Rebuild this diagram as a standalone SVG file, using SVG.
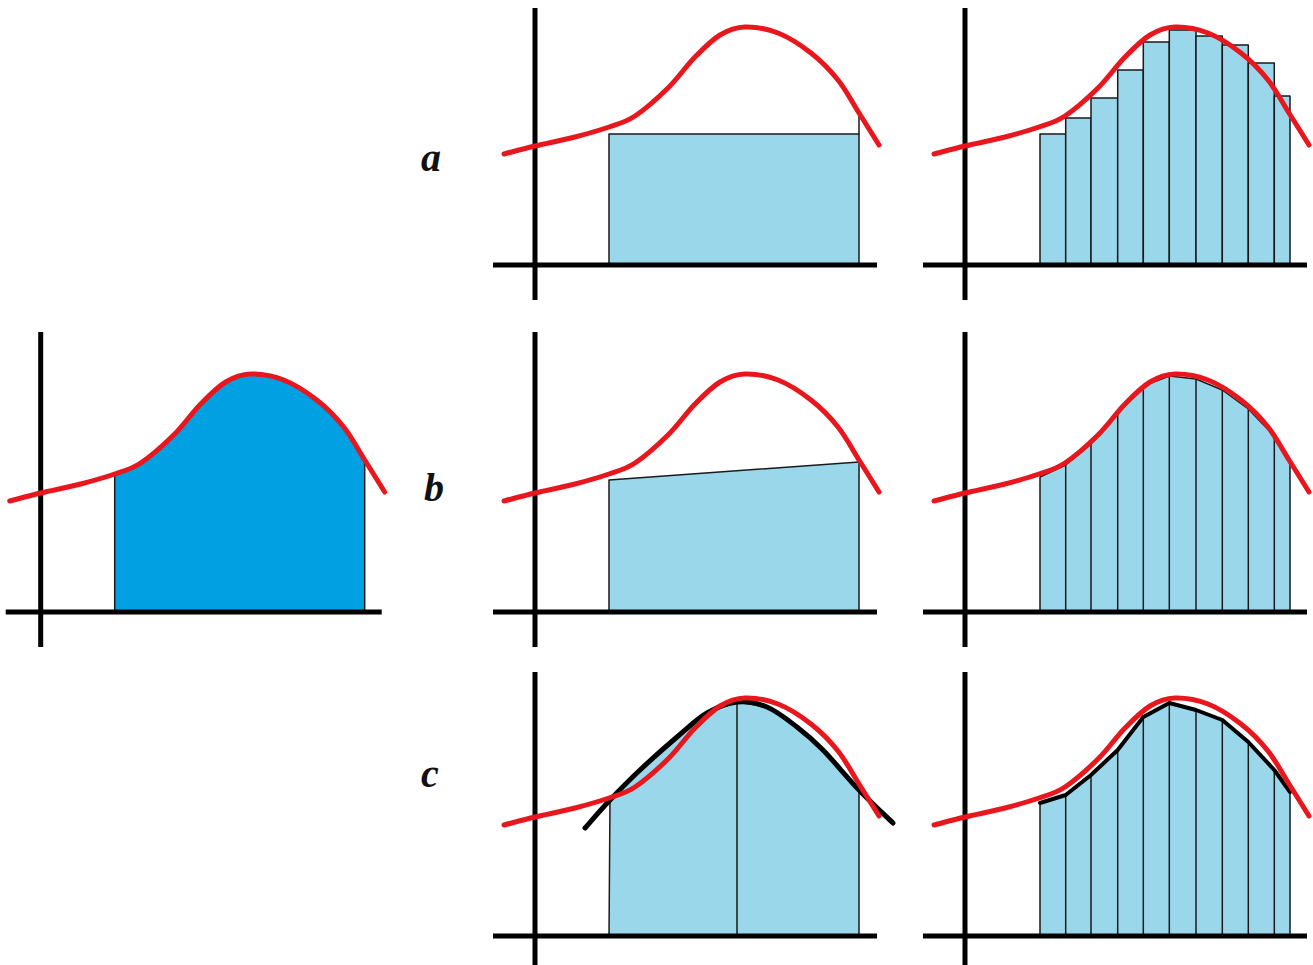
<svg xmlns="http://www.w3.org/2000/svg" width="1313" height="965" viewBox="0 0 1313 965">
<style>
.axis{stroke:#000;stroke-width:5;fill:none}
.red{stroke:#e8161d;stroke-width:5;fill:none;stroke-linecap:round;stroke-linejoin:round}
.blk{stroke:#000;stroke-width:5;fill:none;stroke-linecap:round;stroke-linejoin:round}
.lt{fill:#9bd7ea;stroke:#1a1a1a;stroke-width:1.5;stroke-linejoin:round}
.ln{stroke:#1a1a1a;stroke-width:1.5;fill:none}
.dk{fill:#00a0e3;stroke:#1a1a1a;stroke-width:1.5}
.lbl{font-family:"Liberation Serif","Times New Roman",serif;font-weight:bold;font-style:italic;font-size:40px;fill:#111}
</style>
<defs>
<path id="f" class="red" d="M-31,-111 C-25.8,-112.3 -11.8,-116.2 0,-119 C11.8,-121.8 27.7,-124.8 40,-128 C52.3,-131.2 64,-134.5 74,-138 C84,-141.5 90.2,-142.5 100,-149 C109.8,-155.5 123,-167.2 133,-177 C143,-186.8 151.3,-199.2 160,-208 C168.7,-216.8 176.7,-225 185,-230 C193.3,-235 200.3,-237.7 210,-238 C219.7,-238.3 232,-236.3 243,-232 C254,-227.7 266,-219.8 276,-212 C286,-204.2 295,-195 303,-185 C311,-175 317.2,-162.8 324,-152 C330.8,-141.2 340.7,-125.3 344,-120"/>
</defs>
<rect width="1313" height="965" fill="#fff"/>

<g id="panel-main" transform="translate(40.7,612)">
<path class="dk" d="M74,0 L74,-138 C84,-141.5 90.2,-142.5 100,-149 C109.8,-155.5 123,-167.2 133,-177 C143,-186.8 151.3,-199.2 160,-208 C168.7,-216.8 176.7,-225 185,-230 C193.3,-235 200.3,-237.7 210,-238 C219.7,-238.3 232,-236.3 243,-232 C254,-227.7 266,-219.8 276,-212 C286,-204.2 295,-195 303,-185 C311,-175 317.2,-162.8 324,-152 L324,0 Z"/>
<line class="axis" x1="0" y1="-280" x2="0" y2="35"/>
<line class="axis" x1="-35" y1="0" x2="341" y2="0"/>
<use href="#f"/>
</g>

<g id="panel-a1" transform="translate(535,265)">
<rect class="lt" x="74" y="-131" width="250" height="131"/>
<line class="ln" x1="324" y1="-131" x2="324" y2="-150"/>
<line class="axis" x1="0" y1="-257" x2="0" y2="35"/>
<line class="axis" x1="-42" y1="0" x2="342" y2="0"/>
<use href="#f"/>
</g>

<g id="panel-a2" transform="translate(965,265)">
<rect class="lt" x="75" y="-131" width="25.7" height="131"/>
<rect class="lt" x="100.7" y="-147" width="25.3" height="147"/>
<rect class="lt" x="126" y="-167" width="26.7" height="167"/>
<rect class="lt" x="152.7" y="-195" width="25.6" height="195"/>
<rect class="lt" x="178.3" y="-223" width="26" height="223"/>
<rect class="lt" x="204.3" y="-235" width="26.7" height="235"/>
<rect class="lt" x="231" y="-229" width="26.3" height="229"/>
<rect class="lt" x="257.3" y="-220" width="26" height="220"/>
<rect class="lt" x="283.3" y="-202" width="26" height="202"/>
<rect class="lt" x="309.3" y="-169" width="15.7" height="169"/>
<line class="axis" x1="0" y1="-257" x2="0" y2="35"/>
<line class="axis" x1="-42" y1="0" x2="342" y2="0"/>
<use href="#f"/>
</g>

<g id="panel-b1" transform="translate(535,612)">
<polygon class="lt" points="74,0 74,-132 324,-150 324,0"/>
<line class="axis" x1="0" y1="-280" x2="0" y2="35"/>
<line class="axis" x1="-42" y1="0" x2="342" y2="0"/>
<use href="#f"/>
</g>

<g id="panel-b2" transform="translate(965,612)">
<polygon class="lt" points="75,0 75,-135 100.7,-147 126,-168 152.7,-198 178.3,-226 204.3,-236 231,-233 257.3,-222 283.3,-203 309.3,-176 325,-150 325,0"/>
<g class="ln">
<line x1="100.7" y1="0" x2="100.7" y2="-147"/>
<line x1="126" y1="0" x2="126" y2="-168"/>
<line x1="152.7" y1="0" x2="152.7" y2="-198"/>
<line x1="178.3" y1="0" x2="178.3" y2="-226"/>
<line x1="204.3" y1="0" x2="204.3" y2="-236"/>
<line x1="231" y1="0" x2="231" y2="-233"/>
<line x1="257.3" y1="0" x2="257.3" y2="-222"/>
<line x1="283.3" y1="0" x2="283.3" y2="-203"/>
<line x1="309.3" y1="0" x2="309.3" y2="-176"/>
</g>
<line class="axis" x1="0" y1="-280" x2="0" y2="35"/>
<line class="axis" x1="-42" y1="0" x2="342" y2="0"/>
<use href="#f"/>
</g>

<g id="panel-c1" transform="translate(535,936)">
<polygon class="lt" points="74,0 75,-136 105,-166 142,-199 172,-223 202,-234 232,-229 262,-209 288,-186 324,-146 324,0"/>
<line class="ln" x1="202" y1="0" x2="202" y2="-234"/>
<line class="axis" x1="0" y1="-264" x2="0" y2="30"/>
<line class="axis" x1="-42" y1="0" x2="342" y2="0"/>
<path class="blk" d="M50,-108 C54.2,-112.7 65.8,-126.3 75,-136 C84.2,-145.7 93.8,-155.5 105,-166 C116.2,-176.5 130.8,-189.5 142,-199 C153.2,-208.5 162,-217.2 172,-223 C182,-228.8 192,-233 202,-234 C212,-235 222,-233.2 232,-229 C242,-224.8 252.7,-216.2 262,-209 C271.3,-201.8 277.7,-196.5 288,-186 C298.3,-175.5 312.3,-158.2 324,-146 C335.7,-133.8 352.3,-118.5 358,-113"/>
<use href="#f"/>
</g>

<g id="panel-c2" transform="translate(965,936)">
<polygon class="lt" points="75,0 75,-133 100.7,-141 126,-161 152.7,-186 178.3,-219 204.3,-233 231,-226 257.3,-216 283.3,-194 309.3,-166 325,-144 325,0"/>
<g class="ln">
<line x1="100.7" y1="0" x2="100.7" y2="-141"/>
<line x1="126" y1="0" x2="126" y2="-161"/>
<line x1="152.7" y1="0" x2="152.7" y2="-186"/>
<line x1="178.3" y1="0" x2="178.3" y2="-219"/>
<line x1="204.3" y1="0" x2="204.3" y2="-233"/>
<line x1="231" y1="0" x2="231" y2="-226"/>
<line x1="257.3" y1="0" x2="257.3" y2="-216"/>
<line x1="283.3" y1="0" x2="283.3" y2="-194"/>
<line x1="309.3" y1="0" x2="309.3" y2="-166"/>
</g>
<line class="axis" x1="0" y1="-264" x2="0" y2="30"/>
<line class="axis" x1="-42" y1="0" x2="342" y2="0"/>
<polyline class="blk" style="stroke-width:4" points="75,-133 100.7,-141 126,-161 152.7,-186 178.3,-219 204.3,-233 231,-226 257.3,-216 283.3,-194 309.3,-166 325,-144"/>
<use href="#f"/>
</g>

<g id="labels">
<text class="lbl" x="421" y="171">a</text>
<text class="lbl" x="424" y="501">b</text>
<text class="lbl" x="421" y="787">c</text>
</g>
</svg>
